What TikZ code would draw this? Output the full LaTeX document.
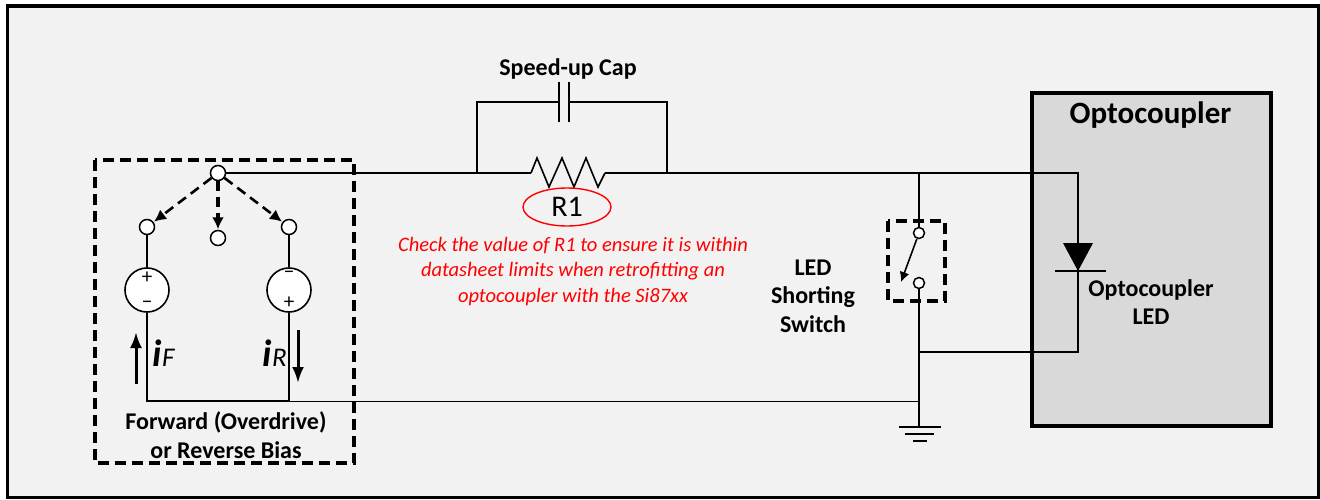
\documentclass[tikz,border=0pt]{standalone}
\usepackage{fontspec}
\setmainfont{Carlito}
\usetikzlibrary{arrows.meta,calc,shapes.geometric}
\definecolor{bgc}{HTML}{F2F2F2}
\definecolor{optoc}{HTML}{D9D9D9}
\tikzset{
  x=1pt,y=-1pt,
  wire/.style={draw=black,line width=1.6pt},
  thinwire/.style={draw=black,line width=0.8pt},
  dashbox/.style={draw=black,line width=3.1pt,dash pattern=on 11pt off 6pt},
  dasharrow/.style={draw=black,line width=2.6pt,dash pattern=on 10pt off 6pt,-{Latex[length=12pt,width=12pt]},shorten >=0.5pt},
  solidarrow/.style={draw=black,line width=3pt,-{Latex[length=16pt,width=12pt]}},
  term/.style={circle,draw=black,fill=white,line width=1.5pt,minimum size=15pt,inner sep=0pt},
  termsmall/.style={circle,draw=black,fill=white,line width=1.5pt,minimum size=11pt,inner sep=0pt},
  src/.style={circle,draw=black,fill=white,line width=1.6pt,minimum size=44pt,inner sep=0pt},
  lbl/.style={font=\fontsize{24}{28.5}\selectfont\bfseries,align=center,inner sep=0pt},
  sym/.style={font=\fontsize{21}{21}\selectfont,inner sep=0pt},
  cur/.style={font=\fontsize{38}{38}\selectfont\bfseries\itshape,inner sep=0pt},
  sub/.style={font=\fontsize{27}{27}\selectfont\itshape,inner sep=0pt},
}
\begin{document}
\begin{tikzpicture}
\useasboundingbox (0,0) rectangle (1320,500);
\fill[white] (0,0) rectangle (1320,500);
\draw[draw=black,line width=3.6pt,fill=bgc] (7.5,6) rectangle (1318.5,497.5);
\node[draw=black,fill=optoc,line width=4pt,minimum width=239pt,minimum height=333pt,inner sep=0pt] (opto) at (1151.5,259.5) {};
\node[lbl,font=\fontsize{31}{34}\selectfont\bfseries] (optolbl) at (1150.5,115) {Optocoupler};

\coordinate (lb) at (147,401);
\coordinate (rb) at (289,401);
\coordinate (gnd) at (919,427);
\coordinate (j1) at (919,173);
\coordinate (j2) at (919,352);
\coordinate (j3) at (919,401);
\coordinate (k1) at (1078,173);
\coordinate (k2) at (1078,352);
\coordinate (rl) at (531,173);
\coordinate (rr) at (605,173);
\coordinate (cl) at (477,173);
\coordinate (cr) at (667,173);
\coordinate (cpl) at (559,102);
\coordinate (cpr) at (569,102);

\node[term] (top) at (218,173) {};
\node[term] (tl) at (147,227) {};
\node[term] (tm) at (218,238) {};
\node[term] (tr) at (289,227) {};
\node[src] (sl) at (147,290) {};
\node[src] (sr) at (289,290) {};

% wires
\draw[wire] (top) -- (rl);
\draw[wire] (rl) -- (537,158) -- (549,187) -- (562,158) -- (574,187) -- (586,158) -- (598,187) -- (rr);
\draw[wire] (rr) -- (j1) -- (k1) -- (k2) -- (j2);
\draw[wire] (cl) |- (cpl);
\draw[wire] (cr) |- (cpr);
\draw[wire] (559,82) -- (559,122);
\draw[wire] (569,82) -- (569,122);
\draw[wire] (tl) -- (sl);
\draw[wire] (tr) -- (sr);
\draw[wire] (sl) -- (lb) -- (rb) -- (sr);
\draw[thinwire] (rb) -- (j3);

% dashed selector
\draw[dasharrow] (top) -- (tl);
\draw[dasharrow,line width=3.1pt] (top) -- (tm);
\draw[dasharrow] (top) -- (tr);
\node[sym] (pl) at (147,278) {+};
\node[sym] (ml) at (147,305) {\textminus};
\node[sym] (mr) at (289,275) {\textminus};
\node[sym] (pr) at (289,303) {+};

% currents
\coordinate (afs) at (136,384);
\coordinate (afe) at (136,332);
\coordinate (ars) at (298,330);
\coordinate (are) at (298,383);
\draw[solidarrow] (afs) -- (afe);
\draw[solidarrow] (ars) -- (are);
\node[cur,anchor=base west] (ifi) at (152,366) {i};
\node[sub,anchor=base west] (ifs) at (162,366) {F};
\node[cur,anchor=base west] (iri) at (262,366) {i};
\node[sub,anchor=base west] (irs) at (272,366) {R};
\node[lbl] (bias) at (226,435) {Forward (Overdrive)\\or Reverse Bias};
\draw[dashbox] (95,160) rectangle (354,463);

% R1
\node[lbl] (cap) at (568,69) {Speed-up Cap};
\node[draw=red,line width=1.4pt,ellipse,minimum width=88pt,minimum height=38pt,inner sep=0pt,font=\fontsize{30}{30}\selectfont] (r1) at (567,207) {R1};
\node[inner sep=0pt,align=center,text=red,font=\fontsize{20.5}{25.5}\selectfont\itshape] (note) at (573,271.5) {Check the value of R1 to ensure it is within\\datasheet limits when retrofitting an\\optocoupler with the Si87xx};

% switch
\node[termsmall] (st) at (919,233) {};
\node[termsmall] (sb) at (919,283) {};
\draw[wire] (j1) -- (st);
\draw[wire] (sb) -- (j2) -- (j3) -- (gnd);
\coordinate (swe) at (901,282);
\draw[draw=black,line width=1.6pt,-{Latex[length=10pt,width=10pt]}] (st) -- (swe);
\draw[dashbox] (888,221) rectangle (945,301);
\node[lbl] (sw) at (813,296) {LED\\Shorting\\Switch};

% ground
\draw[wire] (899,427) -- (941,427);
\draw[wire] (905,434) -- (934,434);
\draw[wire] (913,441) -- (927,441);

% diode
\coordinate (da) at (1078,271);
\fill[black] (1063,243) -- (1093,243) -- (da) -- cycle;
\draw[wire] (1055,271) -- (1106,271);
\node[lbl] (ledl) at (1151,302) {Optocoupler\\LED};
\end{tikzpicture}
\end{document}
